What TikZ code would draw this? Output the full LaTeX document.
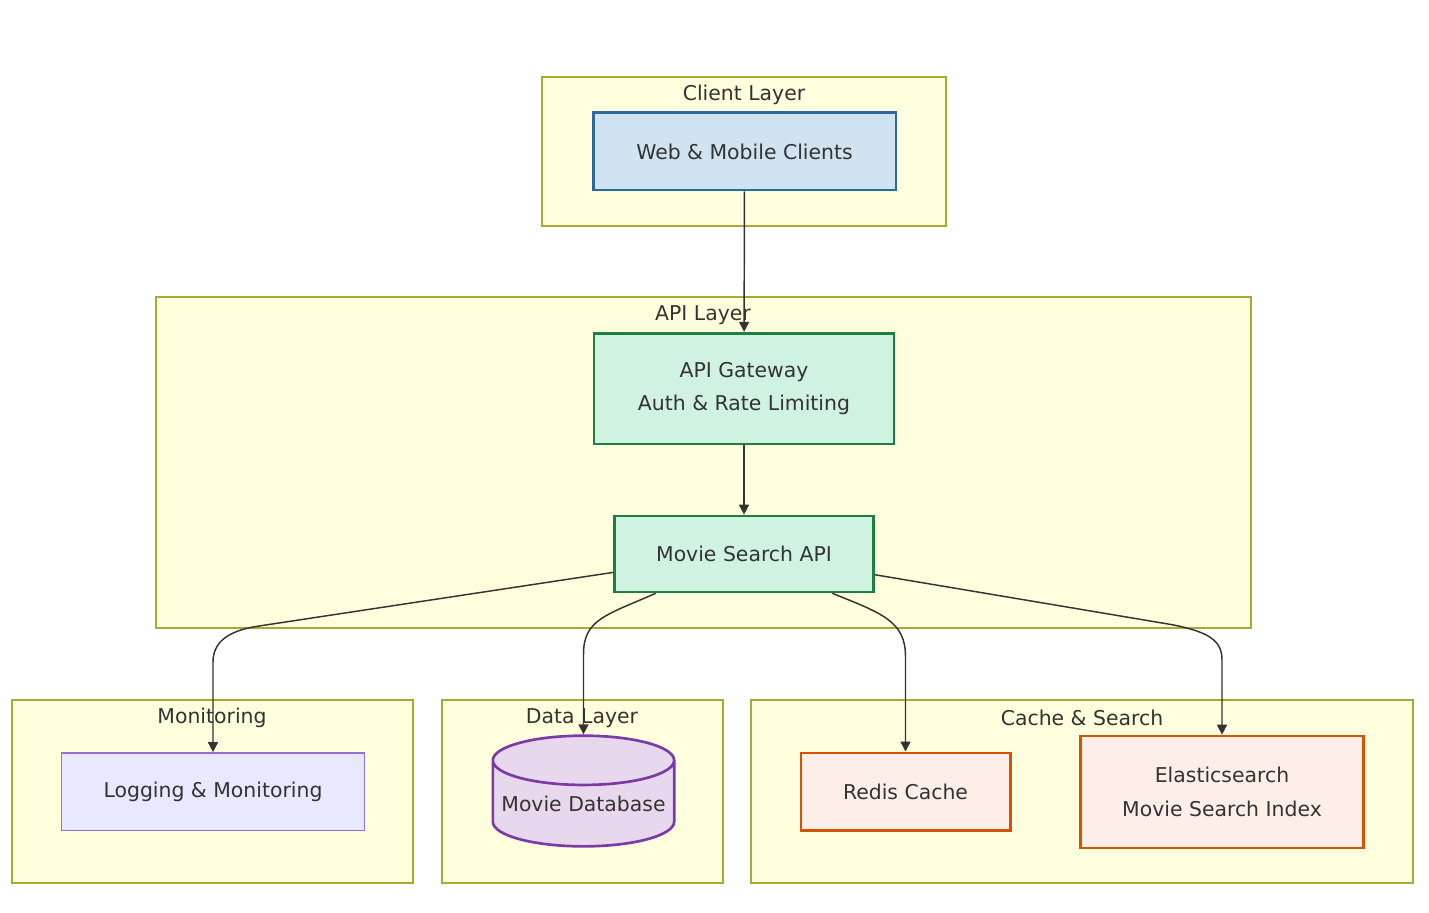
\documentclass[tikz,border=0pt]{standalone}
\usepackage{fontspec}
\setmainfont{DejaVu Sans}
\usetikzlibrary{arrows.meta,calc,shapes.geometric}

\definecolor{clusterfill}{HTML}{FFFFDE}
\definecolor{clusterline}{HTML}{AAAA33}
\definecolor{clientfill}{HTML}{D0E3F0}
\definecolor{clientline}{HTML}{2C6A9C}
\definecolor{apifill}{HTML}{D0F2E0}
\definecolor{apiline}{HTML}{1E7F45}
\definecolor{monfill}{HTML}{E8E8FF}
\definecolor{monline}{HTML}{9370DB}
\definecolor{dbfill}{HTML}{E8D8EE}
\definecolor{dbline}{HTML}{7B3AA8}
\definecolor{cachefill}{HTML}{FDEFE8}
\definecolor{cacheline}{HTML}{D35400}
\definecolor{ink}{HTML}{333333}

\begin{document}
\begin{tikzpicture}[x=0.75pt,y=-0.75pt,
    font=\fontsize{15.3}{18}\selectfont, text=ink,
    cluster/.style={draw=clusterline, fill=clusterfill, line width=1pt},
    clusterlabel/.style={inner sep=0pt},
    box/.style={rectangle, line width=2pt, align=center, inner sep=0pt},
    flow/.style={draw=ink, line width=1.1pt, -{Triangle[length=7.5pt,width=7.5pt]}}]

    \useasboundingbox (0,0) rectangle (1429,913);

    %clusters
    \draw [cluster] (542,77) rectangle (946,226);
    \draw [cluster] (156,297) rectangle (1251,628);
    \draw [cluster] (12,700) rectangle (413,883);
    \draw [cluster] (442,700) rectangle (723,883);
    \draw [cluster] (751,700) rectangle (1413,883);

    \node [clusterlabel] (clientlbl) at (744,95) {Client Layer};
    \node [clusterlabel] (apilbl) at (703,315) {API Layer};
    \node [clusterlabel] (monlbl) at (212,718) {Monitoring};
    \node [clusterlabel] (datalbl) at (582,718) {Data Layer};
    \node [clusterlabel] (cachelbl) at (1082,718) {Cache \& Search};

    %nodes
    \node [box, draw=clientline, fill=clientfill, minimum width=227pt, minimum height=58pt] (clients) at (744.5,151.5) {Web \& Mobile Clients};
    \node [box, draw=apiline, fill=apifill, minimum width=225pt, minimum height=83pt] (gateway) at (744,388.5) {API Gateway\\[7pt]Auth \& Rate Limiting};
    \node [box, draw=apiline, fill=apifill, minimum width=194pt, minimum height=57pt] (api) at (744,554) {Movie Search API};
    \node [box, draw=monline, fill=monfill, line width=1pt, minimum width=227pt, minimum height=58pt] (log) at (213,791.5) {Logging \& Monitoring};
    \node [cylinder, shape border rotate=90, aspect=0.3, draw=dbline, fill=dbfill, line width=2pt, minimum width=136pt, minimum height=83pt, inner sep=0pt] (db) at (583.5,804) {Movie Database};
    \node [box, draw=cacheline, fill=cachefill, minimum width=157pt, minimum height=58pt] (redis) at (905.5,791.5) {Redis Cache};
    \node [box, draw=cacheline, fill=cachefill, minimum width=212pt, minimum height=84pt] (es) at (1222,792) {Elasticsearch\\[7pt]Movie Search Index};

    %edges
    \draw [flow] (clients) -- (gateway);
    \draw [flow] (gateway) -- (api);
    \draw [flow] (api.188) -- ($(log.north)+(45,-126)$) .. controls +(-33,5) and +(0,-18) .. ($(log.north)+(0,-90)$) -- (log.north);
    \draw [flow] (api.204) .. controls +(-50,22) and +(0,-35) .. ($(db.north)+(0,-80)$) -- (db.north);
    \draw [flow] (api.336) .. controls +(50,20) and +(0,-35) .. ($(redis.north)+(0,-95)$) -- (redis.north);
    \draw [flow] (api.351) -- ($(es.north)+(-50,-110)$) .. controls +(35,7) and +(0,-20) .. ($(es.north)+(0,-75)$) -- (es.north);

\end{tikzpicture}
\end{document}
